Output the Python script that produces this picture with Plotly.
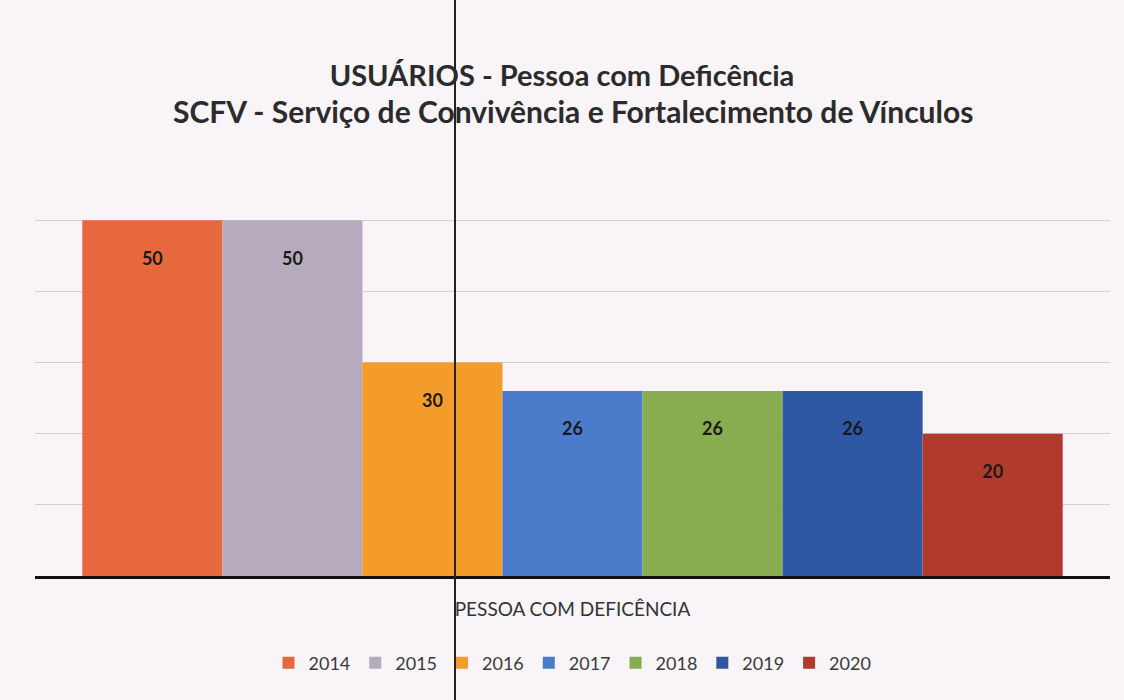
import plotly.graph_objects as go

category = ["PESSOA COM DEFICÊNCIA"]
years = ["2014", "2015", "2016", "2017", "2018", "2019", "2020"]
values = [50, 50, 30, 26, 26, 26, 20]
colors = ["#E8683E", "#B6AABD", "#F39C2B", "#4B7CCB", "#88AC50", "#2E58A3", "#B23A2D"]

title_l1 = "USUÁRIOS - Pessoa com Deficência"
title_l2 = "SCFV - Serviço de Convivência e Fortalecimento de Vínculos"

FONT = "Lato"
H = 700

fig = go.Figure()
for yr, v, c in zip(years, values, colors):
    fig.add_trace(go.Bar(
        name=yr, x=category, y=[v],
        marker=dict(color=c, line=dict(width=0)),
        text=[f"\u00a0<br>{v}"], textposition="inside", insidetextanchor="end",
        textfont=dict(family=FONT, size=18, color="#1a1a1a", weight="bold"),
        textangle=0,
    ))

fig.update_layout(
    width=1124, height=H,
    paper_bgcolor="#F8F4F7", plot_bgcolor="#F8F4F7",
    barmode="group", bargap=0.088, bargroupgap=0,
    margin=dict(l=35, r=14, t=149, b=124),
    title=dict(text=f"<b>{title_l1}</b>",
               x=0.5, xanchor="center", yref="container", y=1 - 76 / H, yanchor="middle",
               font=dict(family=FONT, size=29, color="#2b2b2b")),
    font=dict(family=FONT, color="#333333"),
    showlegend=True,
    legend=dict(orientation="h", x=0.5, xanchor="center", y=-0.204, yanchor="middle",
                font=dict(family=FONT, size=18, color="#3a3a3a"),
                itemwidth=30, traceorder="normal", bgcolor="rgba(0,0,0,0)"),
    uniformtext=dict(mode="show", minsize=10),
)
fig.add_annotation(text=f"<b>{title_l2}</b>", xref="paper", yref="paper",
                   x=0.5, xanchor="center", y=(576 - 111) / 427, yanchor="middle",
                   showarrow=False, font=dict(family=FONT, size=30, color="#2b2b2b"))
fig.update_xaxes(showline=True, linecolor="#111111", linewidth=3,
                 ticks="", ticklabelstandoff=14,
                 tickfont=dict(family=FONT, size=19, color="#333333"),
                 showgrid=False)
fig.update_yaxes(range=[0, 60], dtick=10, showticklabels=False, showgrid=True,
                 gridcolor="#D2CFD2", gridwidth=1, zeroline=False, showline=False)

# vertical scanner line across the page
fig.add_shape(type="line", xref="paper", yref="paper", x0=(455 - 35) / 1075, x1=(455 - 35) / 1075,
              y0=-1, y1=2, line=dict(color="#222222", width=2), layer="above")

fig.write_html("out.html", config={"displayModeBar": False},
               post_script="document.body.style.margin='0';document.body.style.overflow='hidden';")
